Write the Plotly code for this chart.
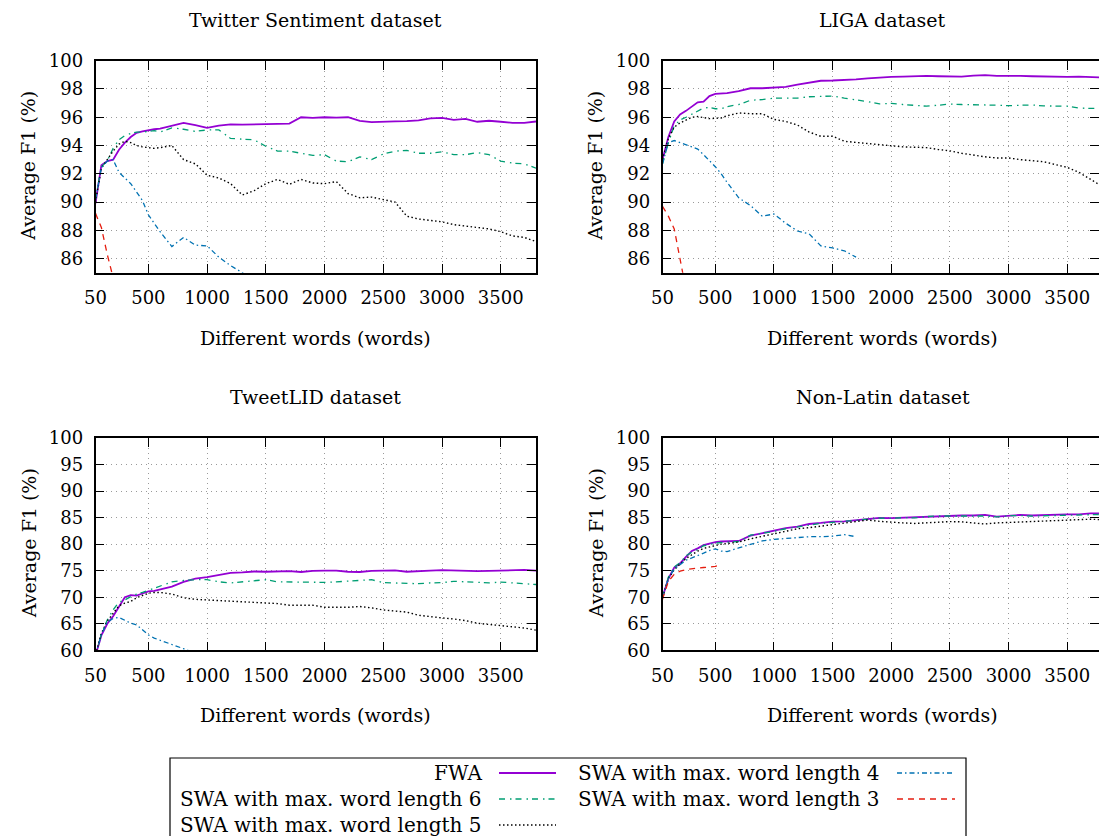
import plotly.graph_objects as go

W, H = 1099, 836

# ---------------- data ----------------
words = [50, 100, 150, 200, 250, 300, 350, 400, 450, 500, 550, 600,
         700, 800, 900, 1000, 1100, 1200, 1300, 1400, 1500, 1600, 1700,
         1800, 1900, 2000, 2100, 2200, 2300, 2400, 2500, 2600, 2700, 2800,
         2900, 3000, 3100, 3200, 3300, 3400, 3500, 3600, 3700, 3800]

series_names = ["FWA", "SWA with max. word length 6", "SWA with max. word length 5",
                "SWA with max. word length 4", "SWA with max. word length 3"]
panel_titles = ["Twitter Sentiment dataset", "LIGA dataset", "TweetLID dataset", "Non-Latin dataset"]
x_tick_vals = [50, 500, 1000, 1500, 2000, 2500, 3000, 3500]
y_ticks_top = [86, 88, 90, 92, 94, 96, 98, 100]
y_ticks_bottom = [60, 65, 70, 75, 80, 85, 90, 95, 100]

# Twitter Sentiment
tw_fwa = [89.9, 92.6, 92.9, 93.0, 93.7, 94.2, 94.6, 94.9, 95.0, 95.1, 95.15, 95.2,
          95.4, 95.6, 95.45, 95.25, 95.4, 95.5, 95.48, 95.5, 95.5, 95.52, 95.55,
          96.0, 95.95, 96.0, 95.97, 96.0, 95.75, 95.65, 95.7, 95.7, 95.72, 95.78,
          95.92, 95.95, 95.82, 95.88, 95.68, 95.75, 95.68, 95.6, 95.6, 95.7]
tw_swa6 = [90.2, 92.5, 92.9, 93.8, 94.4, 94.7, 94.85, 94.95, 94.95, 95.0, 95.05, 94.95,
           95.25, 95.15, 95.0, 95.1, 95.1, 94.5, 94.45, 94.4, 93.95, 93.6, 93.6,
           93.45, 93.3, 93.35, 92.9, 92.85, 93.2, 93.0, 93.4, 93.6, 93.65, 93.45,
           93.45, 93.55, 93.35, 93.35, 93.5, 93.35, 92.9, 92.75, 92.7, 92.4]
tw_swa5 = [90.0, 92.4, 93.0, 93.6, 94.1, 94.3, 94.2, 94.0, 93.9, 93.85, 93.8, 93.85,
           94.0, 93.0, 92.7, 91.9, 91.7, 91.3, 90.5, 90.8, 91.3, 91.6, 91.25,
           91.6, 91.35, 91.3, 91.45, 90.6, 90.3, 90.35, 90.15, 90.0, 89.0, 88.8,
           88.7, 88.6, 88.4, 88.3, 88.2, 88.1, 87.9, 87.6, 87.5, 87.2]
tw_swa4 = [90.2, 92.4, 92.9, 93.0, 92.1, 91.7, 91.3, 90.7, 90.1, 89.1, 88.5, 87.9,
           86.85, 87.5, 86.95, 86.9, 86.1, 85.5, 85.0, 84.4, 83.8, 83.3, 82.8]
tw_swa3 = [89.2, 88.2, 86.3, 84.4, 83.0, 82.0, 81.3, 80.7, 80.2, 79.8, 79.5]

# LIGA
lg_fwa = [93.0, 94.6, 95.7, 96.2, 96.45, 96.75, 97.05, 97.1, 97.5, 97.65, 97.65, 97.7,
          97.85, 98.05, 98.05, 98.08, 98.15, 98.3, 98.45, 98.58, 98.6, 98.62, 98.68,
          98.75, 98.82, 98.85, 98.87, 98.9, 98.92, 98.9, 98.9, 98.87, 98.95, 98.98,
          98.93, 98.94, 98.93, 98.9, 98.87, 98.86, 98.85, 98.87, 98.83, 98.82]
lg_swa6 = [92.7, 94.2, 95.4, 95.8, 96.0, 96.2, 96.45, 96.65, 96.7, 96.6, 96.6, 96.75,
           96.9, 97.2, 97.25, 97.35, 97.35, 97.35, 97.45, 97.5, 97.5, 97.35, 97.25,
           97.1, 96.95, 96.98, 96.9, 96.82, 96.78, 96.85, 96.93, 96.9, 96.9, 96.87,
           96.85, 96.82, 96.84, 96.87, 96.8, 96.78, 96.78, 96.65, 96.62, 96.65]
lg_swa5 = [93.0, 94.5, 95.3, 95.6, 95.8, 96.0, 96.05, 95.95, 95.9, 95.92, 95.95, 96.1,
           96.3, 96.25, 96.25, 95.85, 95.7, 95.45, 94.95, 94.65, 94.66, 94.3, 94.22,
           94.12, 94.05, 93.95, 93.9, 93.88, 93.85, 93.72, 93.62, 93.45, 93.3, 93.2,
           93.12, 93.12, 93.0, 92.92, 92.85, 92.65, 92.45, 92.1, 91.6, 91.1]
lg_swa4 = [92.7, 94.2, 94.35, 94.2, 94.05, 93.95, 93.75, 93.35, 92.95, 92.5, 92.0, 91.4,
           90.3, 89.75, 89.0, 89.15, 88.5, 87.95, 87.75, 86.9, 86.75, 86.55, 86.1]
lg_swa3 = [89.7, 89.0, 88.1, 85.7, 83.8, 82.5, 81.5, 80.8, 80.3, 80.0, 79.7]

# TweetLID
tl_fwa = [59.0, 62.8, 65.0, 66.4, 68.2, 70.0, 70.4, 70.3, 70.7, 71.1, 71.2, 71.5,
          72.0, 72.9, 73.5, 73.8, 74.2, 74.6, 74.7, 74.85, 74.8, 74.85, 74.9,
          74.75, 74.95, 75.0, 75.0, 74.8, 74.75, 74.95, 74.95, 75.05, 74.8, 74.95,
          75.0, 75.1, 75.0, 74.95, 74.9, 74.95, 75.05, 75.1, 75.15, 75.0]
tl_swa6 = [59.0, 63.0, 65.7, 67.6, 69.1, 69.5, 70.1, 70.6, 70.9, 71.3, 71.7, 72.0,
           72.9, 73.15, 73.3, 73.3, 72.9, 72.7, 72.9, 73.0, 73.3, 72.9, 72.85,
           72.9, 72.85, 72.8, 72.9, 73.0, 73.1, 73.3, 72.75, 72.7, 72.6, 72.55,
           72.7, 72.75, 73.0, 72.85, 72.8, 72.7, 72.85, 72.7, 72.5, 72.4]
tl_swa5 = [59.2, 63.2, 65.5, 67.0, 68.4, 68.9, 69.2, 69.9, 70.4, 70.75, 70.9, 70.9,
           70.6, 69.9, 69.6, 69.5, 69.3, 69.2, 69.2, 69.1, 69.0, 68.8, 68.5,
           68.5, 68.5, 68.1, 68.1, 68.1, 68.25, 68.0, 67.6, 67.4, 67.2, 66.6,
           66.3, 66.1, 65.9, 65.6, 65.1, 64.9, 64.6, 64.4, 64.2, 63.8]
tl_swa4 = [59.0, 63.0, 65.3, 66.0, 66.2, 65.6, 65.1, 64.8, 63.8, 62.9, 62.3, 61.9,
           61.2, 60.3, 59.4, 58.6, 57.9, 57.3, 56.7, 56.1, 55.6, 55.1, 54.7]
tl_swa3 = []  # entirely below the visible range in the source chart

# Non-Latin
nl_fwa = [70.0, 73.5, 75.6, 76.4, 77.6, 78.7, 79.2, 79.8, 80.1, 80.4, 80.5, 80.5,
          80.6, 81.6, 82.1, 82.5, 83.0, 83.3, 83.8, 84.0, 84.25, 84.3, 84.5,
          84.7, 84.95, 84.9, 85.0, 85.0, 85.2, 85.3, 85.35, 85.4, 85.4, 85.5,
          85.2, 85.4, 85.5, 85.4, 85.5, 85.6, 85.6, 85.6, 85.8, 85.8]
nl_swa6 = [70.0, 73.8, 75.7, 76.5, 77.8, 78.5, 79.0, 79.7, 79.9, 80.2, 80.3, 80.4,
           80.5, 81.7, 82.0, 82.4, 82.9, 83.3, 83.6, 83.9, 84.1, 84.2, 84.5,
           84.6, 84.9, 84.85, 85.0, 84.95, 85.2, 85.3, 85.3, 85.35, 85.35, 85.3,
           85.15, 85.35, 85.4, 85.3, 85.35, 85.4, 85.5, 85.45, 85.55, 85.6]
nl_swa5 = [70.0, 73.5, 75.2, 76.2, 77.3, 78.0, 78.7, 79.2, 79.5, 79.75, 80.0, 80.1,
           80.4, 81.0, 81.5, 82.0, 82.5, 82.9, 83.1, 83.4, 83.6, 84.0, 84.3,
           84.55, 84.3, 84.1, 84.0, 83.9, 84.05, 84.2, 84.25, 84.2, 84.0, 83.8,
           84.0, 84.1, 84.1, 84.2, 84.3, 84.4, 84.6, 84.6, 84.7, 84.6]
nl_swa4 = [70.0, 73.5, 75.3, 76.2, 77.0, 77.4, 77.8, 78.3, 78.8, 79.1, 78.7, 78.6,
           79.3, 80.0, 80.6, 80.9, 81.1, 81.3, 81.4, 81.4, 81.5, 81.8, 81.4]
nl_swa3 = [69.6, 73.0, 74.3, 74.9, 75.2, 75.4, 75.5, 75.6, 75.7, 75.8, 76.1]

panels_data = [
    [tw_fwa, tw_swa6, tw_swa5, tw_swa4, tw_swa3],
    [lg_fwa, lg_swa6, lg_swa5, lg_swa4, lg_swa3],
    [tl_fwa, tl_swa6, tl_swa5, tl_swa4, tl_swa3],
    [nl_fwa, nl_swa6, nl_swa5, nl_swa4, nl_swa3],
]

# ---------------- styles ----------------
FONT = "DejaVu Serif"
colors = ["#9400d3", "#009e73", "#000000", "#0072b2", "#e51e10"]
dashes = ["solid", "6px,5px,1.5px,4px", "1.5px,2.5px", "5px,3px,1.5px,3px", "6px,5px"]
widths = [1.8, 1.3, 1.4, 1.3, 1.3]

def px_x(p):
    return p / W

def px_y(p):
    return 1 - p / H

# plot area pixel boxes: (left, right, top, bottom)
boxes = [(95.5, 536, 60.7, 272.7), (662.5, 1099, 60.7, 272.7),
         (95.5, 536, 438.0, 650.3), (662.5, 1099, 438.0, 650.3)]
x_ranges = [[50, 3800], [50, 3771], [50, 3800], [50, 3771]]
y_ranges = [[85, 100], [85, 100], [60, 100], [60, 100]]

fig = go.Figure()

for i, data in enumerate(panels_data):
    sfx = "" if i == 0 else str(i + 1)
    for s, vals in enumerate(data):
        if not vals:
            continue
        fig.add_trace(go.Scatter(
            x=words[:len(vals)], y=vals, mode="lines", name=series_names[s],
            showlegend=False, cliponaxis=True,
            line=dict(color=colors[s], width=widths[s], dash=dashes[s]),
            xaxis="x" + sfx, yaxis="y" + sfx))

layout = dict(
    width=W, height=H, margin=dict(l=0, r=0, t=0, b=0, autoexpand=False),
    paper_bgcolor="white", plot_bgcolor="white",
    font=dict(family=FONT, size=18, color="black"),
    showlegend=False,
)

axis_common = dict(showline=True, linecolor="black", linewidth=1.6, mirror="ticks",
                   ticks="inside", ticklen=9, tickwidth=1.3, tickcolor="black",
                   showgrid=True, gridcolor="#9a9a9a", gridwidth=1, griddash="1px,4px",
                   zeroline=False, automargin=False,
                   tickfont=dict(family=FONT, size=18, color="black"))

annotations = []
for i in range(4):
    sfx = "" if i == 0 else str(i + 1)
    l, r, t, b = boxes[i]
    layout["xaxis" + sfx] = dict(axis_common, domain=[px_x(l), px_x(r)], range=x_ranges[i],
                                 tickvals=x_tick_vals, anchor="y" + sfx,
                                 ticklabelstandoff=8)
    layout["yaxis" + sfx] = dict(axis_common, domain=[px_y(b), px_y(t)], range=y_ranges[i],
                                 tickvals=y_ticks_top if i < 2 else y_ticks_bottom,
                                 anchor="x" + sfx, ticklabelstandoff=7)
    full_right = l + 440.5
    cx = (l + full_right) / 2
    annotations.append(dict(text=panel_titles[i], x=px_x(cx), y=px_y(t - 41), xref="paper", yref="paper",
                            showarrow=False, xanchor="center", yanchor="middle",
                            font=dict(family=FONT, size=19)))
    annotations.append(dict(text="Different words (words)", x=px_x(cx), y=px_y(b + 65),
                            xref="paper", yref="paper", showarrow=False,
                            xanchor="center", yanchor="middle", font=dict(family=FONT, size=19)))
    annotations.append(dict(text="Average F1 (%)", x=px_x(l - 67), y=px_y((t + b) / 2 - 0.5),
                            xref="paper", yref="paper", showarrow=False, textangle=-90,
                            xanchor="center", yanchor="middle", font=dict(family=FONT, size=19)))

# ---------------- manual gnuplot-style legend ----------------
shapes = [dict(type="rect", xref="paper", yref="paper", x0=px_x(170), x1=px_x(966),
               y0=px_y(860), y1=px_y(758), line=dict(color="black", width=1.2))]
legend_slots = [(484, 499, 556, 773), (484, 499, 556, 799), (484, 499, 556, 825),
                (882, 897, 955, 773), (882, 897, 955, 799)]
legend_order = [0, 1, 2, 3, 4]
for slot, s in zip(legend_slots, legend_order):
    tx, sx0, sx1, yy = slot
    annotations.append(dict(text=series_names[s], x=px_x(tx), y=px_y(yy), xref="paper", yref="paper",
                            showarrow=False, xanchor="right", yanchor="middle",
                            font=dict(family=FONT, size=20)))
    shapes.append(dict(type="line", xref="paper", yref="paper", x0=px_x(sx0), x1=px_x(sx1),
                       y0=px_y(yy), y1=px_y(yy),
                       line=dict(color=colors[s], width=widths[s], dash=dashes[s])))

layout["annotations"] = annotations
layout["shapes"] = shapes
fig.update_layout(**layout)

fig.write_html("out.html")
